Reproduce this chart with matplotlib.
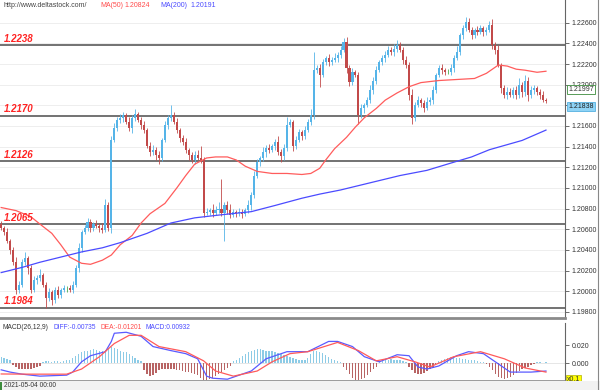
import numpy as np
import matplotlib.pyplot as plt
from matplotlib.patches import Rectangle
from matplotlib.lines import Line2D

plt.rcParams['font.family'] = ['Liberation Sans', 'DejaVu Sans']

# EURUSD H1 closes, one per bar
close = [
    1.2061, 1.2057, 1.2049, 1.2040, 1.2028, 1.2001, 1.2006, 1.2028, 1.2032, 1.2022,
    1.2001, 1.2011, 1.2013, 1.2016, 1.2006, 1.1993, 1.1999, 1.1991, 1.2001, 1.1996,
    1.2001, 1.2003, 1.2003, 1.2001, 1.2006, 1.2022, 1.2042, 1.2057, 1.2061, 1.2067,
    1.2061, 1.2065, 1.2063, 1.2061, 1.2059, 1.2083, 1.2061, 1.2146, 1.2158, 1.2166,
    1.2168, 1.2171, 1.2164, 1.2158, 1.2168, 1.2172, 1.2166, 1.2161, 1.2156, 1.2141,
    1.2135, 1.2137, 1.2132, 1.2129, 1.2146, 1.2161, 1.2168, 1.2171, 1.2164, 1.2156,
    1.2148, 1.2144, 1.2137, 1.2132, 1.2127, 1.2132, 1.2129, 1.2127, 1.2076, 1.2077,
    1.2079, 1.2076, 1.2079, 1.2080, 1.2076, 1.2083, 1.2079, 1.2074, 1.2077, 1.2076,
    1.2077, 1.2075, 1.2079, 1.2083, 1.2093, 1.2112, 1.2125, 1.2129, 1.2135, 1.2139,
    1.2137, 1.2141, 1.2144, 1.2135, 1.2131, 1.2139, 1.2161, 1.2164, 1.2141, 1.2146,
    1.2154, 1.2150, 1.2156, 1.2164, 1.2171, 1.2214, 1.2216, 1.2209, 1.2222, 1.2226,
    1.2222, 1.2224, 1.2226, 1.2229, 1.2234, 1.2241, 1.2216, 1.2203, 1.2212, 1.2209,
    1.2171, 1.2177, 1.2180, 1.2185, 1.2195, 1.2204, 1.2214, 1.2222, 1.2226, 1.2229,
    1.2234, 1.2232, 1.2235, 1.2238, 1.2234, 1.2224, 1.2219, 1.2190, 1.2168, 1.2180,
    1.2185, 1.2182, 1.2177, 1.2183, 1.2185, 1.2195, 1.2209, 1.2216, 1.2214, 1.2212,
    1.2212, 1.2216, 1.2226, 1.2232, 1.2248, 1.2255, 1.2261, 1.2253, 1.2248, 1.2253,
    1.2251, 1.2255, 1.2251, 1.2253, 1.2258, 1.2238, 1.2234, 1.2219, 1.2197, 1.2190,
    1.2193, 1.2190, 1.2195, 1.2190, 1.2200, 1.2193, 1.2204, 1.2190, 1.2195, 1.2197,
    1.2193, 1.2190, 1.2185, 1.2184,
]
first_open = 1.2065

# wick lengths beyond the body, in pips
upper_pips = [
    3, 2, 4, 2, 3, 5, 4, 3, 6, 2, 3, 4, 3, 5, 2, 3, 4, 2, 3, 4,
    2, 3, 2, 3, 4, 3, 5, 2, 3, 4, 3, 2, 4, 3, 5, 6, 3, 4, 5, 3,
    4, 3, 2, 5, 3, 4, 2, 3, 4, 2, 3, 5, 3, 4, 2, 4, 3, 9, 3, 4,
    2, 3, 4, 2, 3, 4, 5, 12, 3, 4, 2, 5, 3, 6, 29, 3, 4, 5, 3, 2,
    4, 3, 2, 5, 3, 4, 3, 2, 5, 3, 4, 2, 3, 6, 3, 4, 8, 3, 2, 4,
    3, 2, 4, 3, 5, 18, 3, 4, 3, 2, 4, 3, 5, 3, 3, 4, 5, 3, 4, 2,
    3, 4, 2, 3, 5, 3, 4, 2, 3, 4, 3, 2, 4, 5, 3, 2, 4, 3, 6, 3,
    4, 2, 3, 5, 3, 4, 2, 3, 4, 2, 3, 4, 3, 5, 2, 3, 5, 4, 3, 2,
    4, 3, 2, 3, 4, 6, 3, 4, 2, 3, 5, 4, 3, 4, 6, 3, 5, 3, 4, 3,
    2, 3, 4, 2,
]
lower_pips = [
    2, 3, 2, 4, 3, 4, 3, 2, 3, 5, 3, 2, 4, 3, 2, 9, 3, 4, 2, 3,
    3, 2, 4, 2, 3, 2, 3, 4, 2, 3, 4, 3, 2, 4, 3, 2, 3, 5, 2, 3,
    3, 4, 2, 3, 5, 3, 2, 4, 3, 2, 4, 3, 5, 6, 3, 2, 4, 3, 2, 3,
    4, 2, 3, 5, 3, 4, 2, 3, 4, 2, 3, 4, 2, 3, 3, 27, 4, 3, 2, 4,
    3, 4, 2, 3, 4, 3, 2, 4, 3, 5, 3, 2, 4, 3, 6, 4, 3, 2, 5, 3,
    2, 4, 3, 2, 3, 4, 3, 11, 2, 3, 4, 3, 2, 4, 3, 2, 5, 4, 3, 2,
    9, 3, 4, 2, 3, 4, 3, 2, 3, 4, 2, 3, 4, 3, 2, 4, 3, 5, 6, 3,
    2, 4, 3, 2, 3, 4, 3, 2, 4, 3, 2, 3, 4, 2, 3, 4, 3, 2, 4, 3,
    3, 2, 4, 3, 2, 3, 4, 2, 5, 3, 4, 2, 3, 4, 3, 5, 4, 6, 3, 4,
    3, 4, 2, 2,
]

# moving averages (bar index, value)
ma50_bar = [0, 5, 10, 13, 17, 20, 23, 27, 30, 34, 37, 40, 44, 47, 50, 55, 59,
            62, 65, 69, 72, 76, 79, 82, 86, 91, 96, 101, 104, 107, 109, 112,
            116, 119, 122, 126, 129, 133, 137, 141, 147, 153, 159, 163, 167,
            170, 173, 176, 180, 183]
ma50 = [1.2081, 1.2078, 1.2072, 1.2065, 1.2056, 1.2045, 1.2033, 1.2027, 1.2026,
        1.2030, 1.2035, 1.2045, 1.2054, 1.2066, 1.2075, 1.2085, 1.2100, 1.2112,
        1.2123, 1.2129, 1.2130, 1.2130, 1.2127, 1.2121, 1.2116, 1.2114, 1.2114,
        1.2113, 1.2114, 1.2119, 1.2127, 1.2138, 1.2149, 1.2159, 1.2168, 1.2177,
        1.2185, 1.2192, 1.2198, 1.2202, 1.2204, 1.2205, 1.2206, 1.2211, 1.2219,
        1.2218, 1.2215, 1.2214, 1.2212, 1.2213]
ma200_bar = [0, 7, 13, 20, 27, 34, 40, 49, 57, 65, 74, 84, 92, 101, 107, 114,
             124, 134, 143, 151, 158, 164, 175, 183]
ma200 = [1.2018, 1.2023, 1.2028, 1.2033, 1.2038, 1.2042, 1.2047, 1.2056, 1.2066,
         1.2071, 1.2074, 1.2077, 1.2083, 1.2090, 1.2094, 1.2098, 1.2105, 1.2112,
         1.2117, 1.2124, 1.2130, 1.2137, 1.2146, 1.2156]

levels = [1.2238, 1.2170, 1.2126, 1.2065, 1.1984]

# MACD panel
diff_bar = [0, 3, 7, 13, 22, 24, 27, 30, 35, 37, 38, 42, 47, 51, 57, 62, 66, 69,
            71, 76, 79, 84, 89, 96, 100, 103, 110, 113, 118, 122, 127, 133, 137,
            140, 143, 147, 153, 157, 162, 167, 171, 178, 183]
diff = [-0.0074, -0.0099, -0.0122, -0.0144, -0.0133, -0.0099, 0.0015, 0.0083,
        0.0128, 0.0242, 0.0333, 0.0344, 0.0299, 0.0185, 0.0140, 0.0106, 0.0049,
        -0.0144, -0.0167, -0.0178, -0.0144, -0.0087, 0.0049, 0.0128, 0.0128,
        0.0128, 0.0242, 0.0242, 0.0185, 0.0072, 0.0015, 0.0094, 0.0083, -0.0042,
        -0.0065, -0.0031, 0.0083, 0.0128, 0.0106, -0.0008, -0.0099, -0.0099, -0.0087]
dea_bar = [0, 10, 22, 27, 33, 38, 43, 47, 53, 62, 68, 72, 78, 86, 91, 97, 103,
           113, 120, 126, 133, 139, 144, 152, 161, 169, 176, 183]
dea = [-0.0120, -0.0122, -0.0122, -0.0065, 0.0072, 0.0219, 0.0310, 0.0310,
       0.0185, 0.0128, 0.0026, -0.0087, -0.0144, -0.0087, 0.0015, 0.0106, 0.0128,
       0.0231, 0.0140, 0.0026, 0.0072, 0.0015, -0.0042, 0.0072, 0.0128, 0.0049,
       -0.0053, -0.0099]
hist = [
    0.007, 0.006, 0.005, 0.003,
    -0.002, -0.004, -0.006, -0.007, -0.007, -0.006, -0.006, -0.005, -0.004, -0.003,
    0.001, 0.002, 0.002, 0.001, 0.002, 0.002, 0.001, 0.002,
    0.003, 0.004, 0.006, 0.008, 0.010, 0.012, 0.013, 0.014, 0.015, 0.016, 0.015, 0.014,
    0.013, 0.015, 0.017, 0.018, 0.017, 0.016, 0.014, 0.012,
    0.012, 0.010, 0.008, 0.006, 0.004, 0.002,
    -0.008, -0.012, -0.014, -0.013, -0.011,
    -0.008, -0.007, -0.006, -0.006, -0.006, -0.007, -0.008, -0.008,
    -0.009, -0.010, -0.010, -0.011, -0.012, -0.013,
    -0.016, -0.019, -0.019, -0.018, -0.016, -0.014,
    -0.012, -0.010, -0.008, -0.005, -0.003,
    0.002, 0.004, 0.006, 0.008, 0.010, 0.012, 0.014, 0.015, 0.016, 0.016, 0.015, 0.014,
    0.013, 0.013, 0.012, 0.011, 0.010, 0.009, 0.008, 0.007, 0.006, 0.005, 0.004,
    0.003, 0.004, 0.006,
    0.010, 0.013, 0.013, 0.012, 0.011, 0.009, 0.007, 0.005, 0.003,
    0.002, 0.001,
    -0.004, -0.008, -0.012, -0.016, -0.019, -0.019, -0.018, -0.016, -0.013, -0.010, -0.007, -0.004,
    0.002, 0.003, 0.004, 0.004, 0.005, 0.004, 0.004, 0.003, 0.002, 0.001,
    -0.004, -0.008, -0.011, -0.012, -0.012, -0.011, -0.009, -0.007, -0.005, -0.002,
    0.002, 0.004, 0.005, 0.006, 0.007, 0.007, 0.006, 0.006, 0.005, 0.005, 0.004, 0.003, 0.003, 0.002,
    0.001, 0.001, -0.001,
    -0.004, -0.008, -0.012, -0.015, -0.017, -0.018, -0.017, -0.015, -0.013, -0.011, -0.009, -0.007, -0.005, -0.004,
    -0.002, -0.001, 0.001, 0.001, 0.000, 0.001,
]

close = np.array(close)
opn = np.concatenate([[first_open], close[:-1]])
hi = np.maximum(opn, close) + np.array(upper_pips) * 1e-4
lo = np.minimum(opn, close) - np.array(lower_pips) * 1e-4
bars = np.arange(len(close))

up_col = '#55b4e8'
dn_col = '#c24a4a'
colors = np.where(close > opn, up_col, np.where(close < opn, dn_col, '#4caf50'))

fig = plt.figure(figsize=(6, 3.9), dpi=100)
xlim = (-0.4, 189.4)

# ---- price panel ----
ax = fig.add_axes([0, 0.1846, 0.9417, 0.8154])
ax.set_xlim(*xlim)
ax.set_ylim(1.1974, 1.2282)
yt = np.arange(1.198, 1.2261, 0.002)
ax.set_yticks(yt)
# 1.21800 sits under the last-price box, as in the source
ax.set_yticklabels(['' if abs(v - 1.218) < 1e-6 else '%.5f' % v for v in yt])
for v in yt:
    ax.axhline(v, color='#eeeeee', lw=0.7, zorder=0)
for v in levels:
    ax.axhline(v, color='#5a5a5a', lw=1.2, zorder=1)
    ax.text(1.0, v + 0.00012, '%.4f' % v, color='#ff2424', fontsize=7,
            fontweight='bold', fontstyle='italic', va='bottom', ha='left', zorder=5)

ax.vlines(bars, lo, hi, colors=colors, lw=0.6, zorder=2)
body = np.maximum(np.abs(close - opn), 0.00004)
ax.bar(bars, body, bottom=np.minimum(opn, close), width=0.7, color=colors,
       edgecolor='none', zorder=3)

ax.plot(ma50_bar, ma50, color='#ff5c5c', lw=0.9, zorder=4)
ax.plot(ma200_bar, ma200, color='#4b4bff', lw=0.9, zorder=4)

ax.set_xticks([])
ax.yaxis.tick_right()
ax.tick_params(axis='y', length=3, width=0.6, colors='#555555', labelsize=5,
               pad=1.5, labelcolor='#333333')
for s in ['top', 'left']:
    ax.spines[s].set_visible(False)
ax.spines['right'].set_color('#666666')
ax.spines['right'].set_linewidth(0.8)
ax.spines['bottom'].set_color('#8a8a8a')
ax.spines['bottom'].set_linewidth(2)

ax.annotate('1.21997', xy=(1.006, 1.21997), xycoords=('axes fraction', 'data'),
            xytext=(0, -1), textcoords='offset points',
            fontsize=5, va='top', ha='left', color='#333333', zorder=6,
            bbox=dict(boxstyle='square,pad=0.15', fc='white', ec='#3c8c3c', lw=0.6))
ax.annotate('1.21838', xy=(1.006, 1.21838), xycoords=('axes fraction', 'data'),
            xytext=(0, -1), textcoords='offset points',
            fontsize=5, va='top', ha='left', color='#222222', zorder=6,
            bbox=dict(boxstyle='square,pad=0.15', fc='#8fd3f5', ec='#55b0e0', lw=0.6))

# ---- MACD panel ----
mx = fig.add_axes([0, 0.0231, 0.9417, 0.1487])
mx.set_xlim(*xlim)
mx.set_ylim(-0.0198, 0.0447)
hist = np.array(hist)
mx.bar(bars, hist, width=0.45, color=np.where(hist >= 0, '#8ccbe6', '#b86464'),
       edgecolor='none', zorder=2)
mx.axhline(0, color='#e6e6e6', lw=0.7, zorder=1)
mx.plot(diff_bar, diff, color='#5a5aff', lw=0.9, zorder=3)
mx.plot(dea_bar, dea, color='#ff5a5a', lw=0.9, zorder=3)
mx.set_xticks([])
mx.yaxis.tick_right()
mx.set_yticks([0.0, 0.02])
mx.set_yticklabels(['0.000', '0.020'])
mx.tick_params(axis='y', length=3, width=0.6, colors='#555555', labelsize=5,
               pad=1.5, labelcolor='#333333')
for s in ['top', 'left']:
    mx.spines[s].set_visible(False)
mx.spines['right'].set_color('#666666')
mx.spines['right'].set_linewidth(0.8)
mx.spines['bottom'].set_color('#8a8a8a')
mx.spines['bottom'].set_linewidth(1.2)

mx.text(0.005, 0.92, 'MACD(26,12,9)', transform=mx.transAxes, fontsize=4.8,
        color='#333333', va='center')
mx.text(0.095, 0.92, 'DIFF:-0.00735', transform=mx.transAxes, fontsize=4.8,
        color='#4b4bff', va='center')
mx.text(0.178, 0.92, 'DEA:-0.01201', transform=mx.transAxes, fontsize=4.8,
        color='#ff4b4b', va='center')
mx.text(0.258, 0.92, 'MACD:0.00932', transform=mx.transAxes, fontsize=4.8,
        color='#4b4bff', va='center')
mx.annotate('x0.1', xy=(1.004, 0.03), xycoords='axes fraction', fontsize=5,
            va='center', ha='left', color='#333333',
            bbox=dict(boxstyle='square,pad=0.12', fc='#ffff00', ec='#b0b000', lw=0.5))

# ---- header and footer ----
fig.text(0.005, 0.986, 'http://www.deltastock.com/', fontsize=5, color='#444444', va='center')
fig.text(0.167, 0.986, 'MA(50)', fontsize=5, color='#ff4b4b', va='center')
fig.text(0.208, 0.986, '1.20824', fontsize=5, color='#ff4b4b', va='center')
fig.text(0.268, 0.986, 'MA(200)', fontsize=5, color='#4b4bff', va='center')
fig.text(0.318, 0.986, '1.20191', fontsize=5, color='#4b4bff', va='center')

fig.patches.append(Rectangle((0, 0), 1, 0.022, transform=fig.transFigure,
                             fc='#f2f2f2', ec='none', zorder=0))
fig.patches.append(Rectangle((0, 0), 0.003, 0.021, transform=fig.transFigure,
                             fc='#3c8c3c', ec='none', zorder=1))
fig.text(0.006, 0.0105, '2021-05-04 00:00', fontsize=4.8, color='#333333', va='center')
fig.lines.append(Line2D([0.997, 0.997], [0, 1], transform=fig.transFigure,
                        color='#888888', lw=0.8))

fig.savefig('out.png', dpi=100)
